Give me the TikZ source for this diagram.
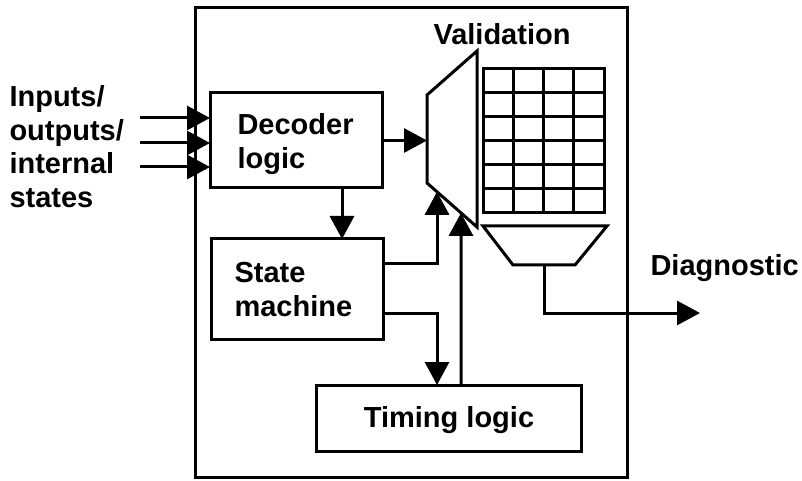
\documentclass[tikz,border=0pt]{standalone}
\usepackage{fontspec}
\setmainfont{Liberation Sans}
\usetikzlibrary{arrows.meta,calc}
\begin{document}
\begin{tikzpicture}[x=1bp,y=-1bp,
  line width=3bp, line join=miter,
  every node/.style={font=\fontsize{29bp}{33.5bp}\selectfont\bfseries},
  blockbox/.style={draw, inner sep=0pt, outer sep=0pt},
  arr/.style={-{Triangle[length=23bp,width=24bp]}},
  lbl/.style={inner sep=0pt, align=left}]
  \useasboundingbox (0,0) rectangle (802,481);

  % enclosing frame
  \node[blockbox, minimum width=432bp, minimum height=469bp] (frame) at (411,242.5) {};

  % blocks
  \node[blockbox, minimum width=172bp, minimum height=95bp] (decoder) at (296,140.5) {};
  \node[lbl, anchor=north west] (dectext) at (236,112) {Decoder\\logic};
  \node[blockbox, minimum width=172bp, minimum height=100bp] (state) at (297,289) {};
  \node[lbl, anchor=north west] (statetext) at (233,261) {State\\machine};
  \node[blockbox, minimum width=265bp, minimum height=66bp] (timing) at (448.5,418) {};
  \node[inner sep=0pt, anchor=base] (timingtext) at (449,427) {Timing logic};

  % validation multiplexer
  \coordinate (mTL) at (427,95);
  \coordinate (mTR) at (477,51);
  \coordinate (mBR) at (477,227);
  \coordinate (mBL) at (427,183);
  \draw (mTL) -- (mTR) -- (mBR) -- (mBL) -- cycle;
  \node[inner sep=0pt, anchor=base] (valtext) at (502,45) {Validation};

  % register array
  \foreach \i in {1,...,3}
    \draw (483+\i*30.25,69) -- ++(0,144);
  \foreach \j in {1,...,5}
    \draw (483,69+\j*24) -- ++(121,0);
  \draw (483,69) rectangle (604,213);

  % output selector
  \coordinate (oTL) at (483,226);
  \coordinate (oTR) at (607,226);
  \coordinate (oBR) at (575,265);
  \coordinate (oBL) at (513,265);
  \draw (oTL) -- (oTR) -- (oBR) -- (oBL) -- cycle;
  \coordinate (oOut) at (544,265);
  \coordinate (diagEnd) at (700,313);
  \node[inner sep=0pt, anchor=base west] (diagtext) at (649,276) {Diagnostic};

  % left label
  \node[lbl, anchor=north west] (inlabel) at (8,84) {Inputs/\\outputs/\\internal\\states};

  % input signals
  \coordinate (in1) at (140,118);
  \coordinate (in2) at (140,143);
  \coordinate (in3) at (140,167);
  \foreach \c in {in1,in2,in3}
    \draw[arr] (\c) -- (\c -| decoder.west);

  % connections
  \coordinate (dx) at (342,0);
  \coordinate (sx) at (437,0);
  \coordinate (tx) at (461,0);
  \coordinate (t1) at ($(mBL)!0.2!(mBR)$);
  \coordinate (t2) at ($(mBL)!0.68!(mBR)$);
  \coordinate (sUp) at (0,264);
  \coordinate (sDn) at (0,313);

  \draw[arr] (decoder.east) -- (decoder.east -| mBL);
  \draw[arr] (decoder.south -| dx) -- (state.north -| dx);
  \draw[arr] (state.east |- sUp) -| (t1);
  \draw[arr] (state.east |- sDn) -| (timing.north -| sx);
  \draw[arr] (timing.north -| tx) -- (t2);
  \draw[arr] (oOut) |- (diagEnd);
\end{tikzpicture}
\end{document}
